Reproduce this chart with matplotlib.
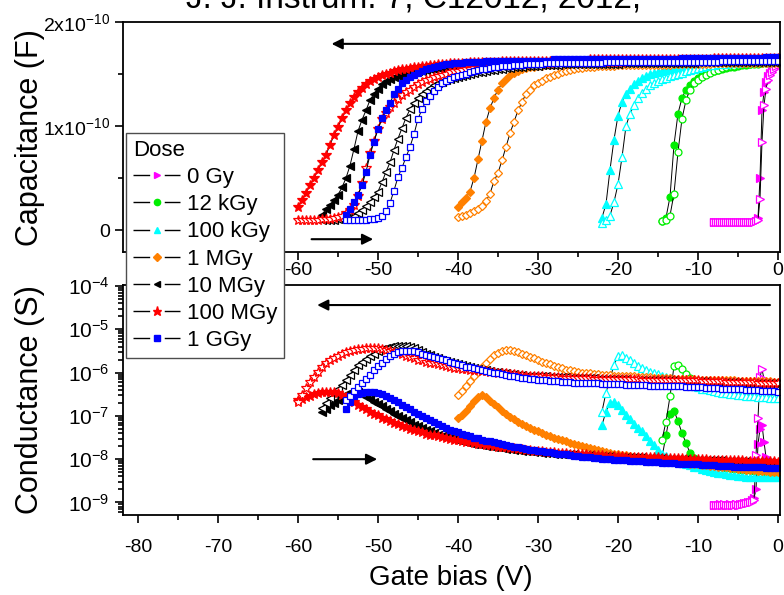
import numpy as np
import matplotlib.pyplot as plt
from matplotlib.lines import Line2D
from matplotlib.ticker import MultipleLocator, FixedLocator, FixedFormatter, LogLocator, LogFormatterSciNotation, NullFormatter

plt.rcParams['font.family'] = ['Liberation Sans', 'DejaVu Sans']
plt.rcParams['mathtext.fontset'] = 'custom'
plt.rcParams['mathtext.rm'] = 'Liberation Sans'
plt.rcParams['mathtext.it'] = 'Liberation Sans:italic'
plt.rcParams['mathtext.bf'] = 'Liberation Sans:bold'
plt.rcParams['axes.unicode_minus'] = False

# ---------------- data ----------------
doses = ['0 Gy', '12 kGy', '100 kGy', '1 MGy', '10 MGy', '100 MGy', '1 GGy']
colors = ['#ff00ff', '#00ee00', '#00ffff', '#ff8000', '#000000', '#ff0000', '#0000ff']
markers = ['>', 'o', '^', 'D', '<', '*', 's']
sweep_start = [-8, -14.5, -22, -40, -57, -60, -54]     # every sweep ends at 0 V

# capacitance in units of 1e-10 F (filled = first sweep, open = return sweep)
cap_0Gy_filled = [0.08, 0.08, 0.08, 0.08, 0.08, 0.08, 0.08, 0.08, 0.08, 0.08,
                  0.08, 0.08, 0.08, 0.08, 0.08, 0.08, 0.08, 0.08, 0.08, 0.08,
                  0.08, 0.09, 0.12, 0.50, 1.15, 1.33, 1.42, 1.48, 1.51, 1.54,
                  1.56, 1.58, 1.60]
cap_0Gy_open = [0.08, 0.08, 0.08, 0.08, 0.08, 0.08, 0.08, 0.08, 0.08, 0.08,
                0.08, 0.08, 0.08, 0.08, 0.08, 0.08, 0.08, 0.08, 0.08, 0.08,
                0.08, 0.09, 0.10, 0.30, 0.85, 1.20, 1.36, 1.44, 1.49, 1.52,
                1.55, 1.58, 1.61]
cap_12kGy_filled = [0.09, 0.12, 0.32, 0.82, 1.12, 1.27, 1.35, 1.39, 1.43, 1.46,
                    1.49, 1.51, 1.52, 1.53, 1.54, 1.55, 1.56, 1.57, 1.57, 1.58,
                    1.59, 1.59, 1.60, 1.60, 1.60, 1.61, 1.61, 1.61, 1.62, 1.62]
cap_12kGy_open = [0.09, 0.10, 0.14, 0.35, 0.75, 1.07, 1.25, 1.35, 1.41, 1.44,
                  1.47, 1.49, 1.51, 1.53, 1.54, 1.56, 1.57, 1.58, 1.58, 1.59,
                  1.60, 1.60, 1.60, 1.61, 1.61, 1.61, 1.62, 1.62, 1.62, 1.63]
cap_100kGy_filled = [0.12, 0.25, 0.58, 0.87, 1.10, 1.23, 1.31, 1.36, 1.40, 1.43,
                     1.46, 1.48, 1.50, 1.51, 1.52, 1.53, 1.54, 1.55, 1.56, 1.57,
                     1.57, 1.58, 1.58, 1.59, 1.59, 1.60, 1.60, 1.60, 1.61, 1.61,
                     1.61, 1.61, 1.62, 1.62, 1.62, 1.62, 1.62, 1.63, 1.63, 1.63,
                     1.63, 1.63, 1.64, 1.64, 1.64]
cap_100kGy_open = [0.07, 0.10, 0.14, 0.27, 0.44, 0.70, 1.00, 1.12, 1.20, 1.27,
                   1.32, 1.36, 1.39, 1.41, 1.43, 1.45, 1.46, 1.48, 1.49, 1.50,
                   1.51, 1.53, 1.54, 1.55, 1.56, 1.57, 1.58, 1.59, 1.59, 1.60,
                   1.60, 1.60, 1.61, 1.61, 1.61, 1.62, 1.62, 1.62, 1.62, 1.63,
                   1.63, 1.63, 1.63, 1.64, 1.64]
cap_1MGy_filled = [0.22, 0.27, 0.31, 0.37, 0.50, 0.68, 0.86, 1.04, 1.17, 1.27,
                   1.35, 1.41, 1.45, 1.49, 1.51, 1.53, 1.55, 1.56, 1.57, 1.57,
                   1.58, 1.58, 1.59, 1.59, 1.59, 1.59, 1.59, 1.59, 1.59, 1.59,
                   1.59, 1.59, 1.59, 1.59, 1.59, 1.60, 1.60, 1.60, 1.60, 1.60,
                   1.60, 1.60, 1.60, 1.60, 1.60, 1.60, 1.60, 1.60, 1.60, 1.60,
                   1.60, 1.60, 1.60, 1.60, 1.60, 1.60, 1.61, 1.61, 1.61, 1.61,
                   1.61, 1.61, 1.61, 1.61, 1.61, 1.61, 1.61, 1.61, 1.61, 1.61,
                   1.61, 1.61, 1.61, 1.61, 1.61, 1.62, 1.62, 1.62, 1.62, 1.62,
                   1.62]
cap_1MGy_open = [0.13, 0.14, 0.15, 0.16, 0.18, 0.20, 0.23, 0.28, 0.35, 0.47,
                 0.55, 0.67, 0.80, 0.93, 1.04, 1.15, 1.23, 1.31, 1.35, 1.39,
                 1.41, 1.43, 1.46, 1.47, 1.49, 1.50, 1.52, 1.53, 1.54, 1.55,
                 1.56, 1.56, 1.57, 1.57, 1.57, 1.58, 1.58, 1.58, 1.58, 1.58,
                 1.59, 1.59, 1.59, 1.59, 1.59, 1.59, 1.59, 1.59, 1.59, 1.59,
                 1.59, 1.59, 1.59, 1.59, 1.60, 1.60, 1.60, 1.60, 1.60, 1.60,
                 1.60, 1.60, 1.60, 1.60, 1.61, 1.61, 1.61, 1.61, 1.61, 1.61,
                 1.61, 1.61, 1.61, 1.61, 1.61, 1.61, 1.61, 1.61, 1.61, 1.61,
                 1.61]
cap_10MGy_filled = [0.15, 0.20, 0.24, 0.29, 0.34, 0.41, 0.50, 0.62, 0.78, 0.95,
                    1.06, 1.15, 1.25, 1.31, 1.36, 1.40, 1.43, 1.45, 1.47, 1.48,
                    1.49, 1.50, 1.51, 1.52, 1.53, 1.53, 1.54, 1.55, 1.55, 1.56,
                    1.56, 1.57, 1.57, 1.57, 1.58, 1.58, 1.58, 1.58, 1.59, 1.59,
                    1.59, 1.59, 1.60, 1.60, 1.60, 1.60, 1.60, 1.61, 1.61, 1.61,
                    1.61, 1.61, 1.61, 1.61, 1.61, 1.62, 1.62, 1.62, 1.62, 1.62,
                    1.62, 1.62, 1.62, 1.62, 1.62, 1.62, 1.62, 1.62, 1.62, 1.62,
                    1.62, 1.62, 1.63, 1.63, 1.63, 1.63, 1.63, 1.63, 1.63, 1.63,
                    1.63, 1.63, 1.63, 1.63, 1.63, 1.63, 1.63, 1.63, 1.63, 1.63,
                    1.63, 1.63, 1.64, 1.64, 1.64, 1.64, 1.64, 1.64, 1.64, 1.64,
                    1.64, 1.64, 1.64, 1.64, 1.64, 1.64, 1.64, 1.64, 1.64, 1.64,
                    1.64, 1.64, 1.64, 1.64, 1.64]
cap_10MGy_open = [0.10, 0.10, 0.10, 0.10, 0.11, 0.11, 0.12, 0.13, 0.14, 0.16,
                  0.19, 0.23, 0.27, 0.32, 0.37, 0.46, 0.56, 0.65, 0.77, 0.88,
                  0.98, 1.08, 1.16, 1.22, 1.27, 1.31, 1.34, 1.37, 1.39, 1.41,
                  1.42, 1.44, 1.45, 1.46, 1.47, 1.48, 1.49, 1.50, 1.51, 1.52,
                  1.52, 1.53, 1.54, 1.54, 1.55, 1.55, 1.56, 1.56, 1.57, 1.57,
                  1.57, 1.58, 1.58, 1.58, 1.58, 1.59, 1.59, 1.59, 1.59, 1.59,
                  1.60, 1.60, 1.60, 1.60, 1.60, 1.60, 1.60, 1.60, 1.60, 1.60,
                  1.60, 1.60, 1.60, 1.60, 1.60, 1.61, 1.61, 1.61, 1.61, 1.61,
                  1.61, 1.61, 1.61, 1.61, 1.61, 1.61, 1.61, 1.61, 1.61, 1.61,
                  1.61, 1.61, 1.61, 1.61, 1.62, 1.62, 1.62, 1.62, 1.62, 1.62,
                  1.62, 1.62, 1.62, 1.62, 1.62, 1.62, 1.62, 1.62, 1.62, 1.62,
                  1.62, 1.62, 1.62, 1.62, 1.62]
cap_100MGy_filled = [0.22, 0.29, 0.36, 0.43, 0.50, 0.58, 0.65, 0.72, 0.82, 0.91,
                     0.99, 1.08, 1.15, 1.22, 1.28, 1.33, 1.37, 1.40, 1.43, 1.45,
                     1.47, 1.49, 1.50, 1.51, 1.53, 1.54, 1.55, 1.55, 1.56, 1.57,
                     1.57, 1.58, 1.58, 1.59, 1.59, 1.60, 1.60, 1.60, 1.61, 1.61,
                     1.61, 1.61, 1.61, 1.62, 1.62, 1.62, 1.62, 1.62, 1.62, 1.62,
                     1.62, 1.63, 1.63, 1.63, 1.63, 1.63, 1.63, 1.63, 1.63, 1.63,
                     1.63, 1.63, 1.63, 1.63, 1.63, 1.63, 1.63, 1.63, 1.63, 1.63,
                     1.63, 1.63, 1.63, 1.64, 1.64, 1.64, 1.64, 1.64, 1.64, 1.64,
                     1.64, 1.64, 1.64, 1.64, 1.64, 1.64, 1.64, 1.64, 1.64, 1.64,
                     1.64, 1.64, 1.64, 1.64, 1.64, 1.64, 1.64, 1.64, 1.64, 1.64,
                     1.64, 1.64, 1.64, 1.64, 1.65, 1.65, 1.65, 1.65, 1.65, 1.65,
                     1.65, 1.65, 1.65, 1.65, 1.65, 1.65, 1.65, 1.65, 1.65, 1.65,
                     1.65]
cap_100MGy_open = [0.10, 0.10, 0.10, 0.10, 0.10, 0.10, 0.11, 0.11, 0.11, 0.12,
                   0.13, 0.14, 0.16, 0.19, 0.24, 0.33, 0.45, 0.60, 0.74, 0.86,
                   0.97, 1.07, 1.13, 1.18, 1.22, 1.26, 1.30, 1.33, 1.35, 1.38,
                   1.40, 1.42, 1.44, 1.45, 1.47, 1.48, 1.49, 1.50, 1.52, 1.53,
                   1.53, 1.54, 1.55, 1.55, 1.56, 1.56, 1.57, 1.57, 1.58, 1.58,
                   1.58, 1.59, 1.59, 1.59, 1.60, 1.60, 1.60, 1.60, 1.61, 1.61,
                   1.61, 1.61, 1.61, 1.61, 1.62, 1.62, 1.62, 1.62, 1.62, 1.62,
                   1.62, 1.62, 1.62, 1.62, 1.62, 1.62, 1.62, 1.62, 1.62, 1.62,
                   1.62, 1.62, 1.63, 1.63, 1.63, 1.63, 1.63, 1.63, 1.63, 1.63,
                   1.63, 1.63, 1.63, 1.63, 1.63, 1.63, 1.63, 1.63, 1.63, 1.63,
                   1.63, 1.63, 1.63, 1.63, 1.64, 1.64, 1.64, 1.64, 1.64, 1.64,
                   1.64, 1.64, 1.64, 1.64, 1.64, 1.64, 1.64, 1.64, 1.64, 1.64,
                   1.64]
cap_1GGy_filled = [0.15, 0.20, 0.27, 0.34, 0.43, 0.56, 0.72, 0.85, 0.97, 1.08,
                   1.15, 1.22, 1.31, 1.36, 1.41, 1.44, 1.47, 1.49, 1.51, 1.53,
                   1.55, 1.56, 1.57, 1.58, 1.59, 1.60, 1.60, 1.61, 1.61, 1.61,
                   1.62, 1.62, 1.62, 1.62, 1.62, 1.63, 1.63, 1.63, 1.63, 1.63,
                   1.63, 1.63, 1.63, 1.63, 1.63, 1.63, 1.63, 1.63, 1.63, 1.63,
                   1.63, 1.63, 1.64, 1.64, 1.64, 1.64, 1.64, 1.64, 1.64, 1.64,
                   1.64, 1.64, 1.64, 1.64, 1.64, 1.64, 1.64, 1.64, 1.64, 1.64,
                   1.64, 1.64, 1.64, 1.64, 1.64, 1.64, 1.64, 1.64, 1.64, 1.64,
                   1.64, 1.64, 1.64, 1.64, 1.65, 1.65, 1.65, 1.65, 1.65, 1.65,
                   1.65, 1.65, 1.65, 1.65, 1.65, 1.65, 1.65, 1.65, 1.65, 1.65,
                   1.65, 1.65, 1.65, 1.65, 1.65, 1.66, 1.66, 1.66, 1.66]
cap_1GGy_open = [0.10, 0.10, 0.10, 0.10, 0.10, 0.10, 0.11, 0.11, 0.12, 0.14,
                 0.18, 0.26, 0.38, 0.51, 0.60, 0.70, 0.80, 0.92, 1.07, 1.16,
                 1.24, 1.29, 1.34, 1.38, 1.41, 1.43, 1.45, 1.47, 1.48, 1.49,
                 1.50, 1.52, 1.53, 1.54, 1.55, 1.55, 1.56, 1.57, 1.57, 1.58,
                 1.58, 1.58, 1.59, 1.59, 1.59, 1.60, 1.60, 1.60, 1.60, 1.60,
                 1.61, 1.61, 1.61, 1.61, 1.61, 1.61, 1.61, 1.61, 1.61, 1.61,
                 1.61, 1.61, 1.61, 1.61, 1.61, 1.62, 1.62, 1.62, 1.62, 1.62,
                 1.62, 1.62, 1.62, 1.62, 1.62, 1.62, 1.62, 1.62, 1.62, 1.62,
                 1.62, 1.62, 1.62, 1.62, 1.62, 1.62, 1.62, 1.62, 1.62, 1.62,
                 1.62, 1.62, 1.62, 1.62, 1.63, 1.63, 1.63, 1.63, 1.63, 1.63,
                 1.63, 1.63, 1.63, 1.63, 1.63, 1.63, 1.63, 1.63, 1.63]

# conductance, read as log10(G / S) on the log axis
cond_0Gy_filled = [-9.05, -9.06, -9.05, -9.04, -9.05, -9.06, -9.05, -9.05, -9.04, -9.05,
                   -9.05, -9.04, -9.05, -9.04, -9.03, -9.02, -9.01, -9.00, -8.98, -8.95,
                   -8.90, -8.70, -7.65, -7.30, -7.20, -7.60, -7.95, -8.10, -8.15, -8.20,
                   -8.22, -8.24, -8.25]
cond_0Gy_open = [-9.06, -9.05, -9.05, -9.06, -9.05, -9.04, -9.05, -9.05, -9.06, -9.05,
                 -9.05, -9.04, -9.05, -9.05, -9.04, -9.03, -9.02, -9.01, -9.00, -8.98,
                 -8.95, -7.90, -7.05, -6.10, -5.92, -6.15, -6.25, -6.28, -6.30, -6.31,
                 -6.32, -6.33, -6.33]
cond_12kGy_filled = [-7.96, -7.45, -6.95, -6.88, -7.12, -7.40, -7.62, -7.86, -7.98, -8.04,
                     -8.08, -8.10, -8.12, -8.14, -8.16, -8.18, -8.20, -8.21, -8.22, -8.23,
                     -8.24, -8.25, -8.26, -8.27, -8.28, -8.28, -8.29, -8.30, -8.30, -8.31]
cond_12kGy_open = [-7.56, -7.13, -6.55, -5.85, -5.82, -5.92, -6.04, -6.13, -6.22, -6.29,
                   -6.34, -6.38, -6.41, -6.43, -6.45, -6.46, -6.48, -6.49, -6.50, -6.51,
                   -6.52, -6.53, -6.53, -6.54, -6.54, -6.55, -6.55, -6.56, -6.56, -6.57]
cond_100kGy_filled = [-7.21, -6.90, -6.70, -6.68, -6.74, -6.86, -6.97, -7.08, -7.18, -7.27,
                      -7.36, -7.46, -7.57, -7.68, -7.78, -7.87, -7.93, -7.98, -8.02, -8.05,
                      -8.08, -8.11, -8.14, -8.17, -8.19, -8.22, -8.24, -8.27, -8.29, -8.31,
                      -8.33, -8.35, -8.36, -8.37, -8.38, -8.39, -8.40, -8.40, -8.40, -8.40,
                      -8.41, -8.41, -8.41, -8.41, -8.41]
cond_100kGy_open = [-6.90, -6.46, -6.15, -5.82, -5.62, -5.60, -5.66, -5.71, -5.78, -5.84,
                    -5.89, -5.94, -5.98, -6.01, -6.04, -6.07, -6.10, -6.13, -6.16, -6.19,
                    -6.22, -6.25, -6.28, -6.31, -6.34, -6.37, -6.39, -6.41, -6.43, -6.45,
                    -6.46, -6.48, -6.49, -6.50, -6.51, -6.52, -6.53, -6.54, -6.55, -6.56,
                    -6.56, -6.57, -6.58, -6.58, -6.59]
cond_1MGy_filled = [-7.06, -6.97, -6.88, -6.77, -6.66, -6.56, -6.52, -6.57, -6.65, -6.73,
                    -6.80, -6.88, -6.95, -7.02, -7.08, -7.14, -7.19, -7.24, -7.28, -7.32,
                    -7.36, -7.40, -7.43, -7.47, -7.50, -7.53, -7.56, -7.59, -7.62, -7.65,
                    -7.68, -7.70, -7.73, -7.75, -7.77, -7.79, -7.81, -7.83, -7.85, -7.87,
                    -7.88, -7.90, -7.91, -7.93, -7.94, -7.96, -7.97, -7.98, -8.00, -8.01,
                    -8.02, -8.03, -8.04, -8.05, -8.06, -8.07, -8.08, -8.09, -8.10, -8.11,
                    -8.12, -8.13, -8.14, -8.15, -8.16, -8.17, -8.18, -8.19, -8.20, -8.21,
                    -8.22, -8.23, -8.24, -8.25, -8.26, -8.27, -8.27, -8.28, -8.29, -8.30,
                    -8.30]
cond_1MGy_open = [-6.52, -6.42, -6.31, -6.20, -6.09, -5.98, -5.87, -5.77, -5.68, -5.60,
                  -5.54, -5.50, -5.48, -5.48, -5.50, -5.53, -5.56, -5.60, -5.63, -5.67,
                  -5.71, -5.75, -5.78, -5.81, -5.84, -5.87, -5.90, -5.93, -5.95, -5.97,
                  -5.99, -6.00, -6.01, -6.02, -6.03, -6.04, -6.05, -6.06, -6.06, -6.07,
                  -6.07, -6.08, -6.08, -6.09, -6.09, -6.10, -6.10, -6.11, -6.11, -6.12,
                  -6.12, -6.12, -6.13, -6.13, -6.14, -6.14, -6.14, -6.15, -6.15, -6.15,
                  -6.16, -6.16, -6.16, -6.17, -6.17, -6.17, -6.18, -6.18, -6.18, -6.18,
                  -6.19, -6.19, -6.19, -6.19, -6.20, -6.20, -6.20, -6.20, -6.20, -6.21,
                  -6.21]
cond_10MGy_filled = [-6.90, -6.83, -6.76, -6.70, -6.63, -6.56, -6.50, -6.46, -6.44, -6.45,
                     -6.50, -6.56, -6.62, -6.68, -6.73, -6.78, -6.84, -6.89, -6.95, -7.00,
                     -7.05, -7.10, -7.15, -7.20, -7.24, -7.28, -7.32, -7.36, -7.40, -7.43,
                     -7.46, -7.49, -7.52, -7.54, -7.56, -7.58, -7.60, -7.62, -7.64, -7.66,
                     -7.67, -7.69, -7.70, -7.72, -7.73, -7.74, -7.76, -7.77, -7.78, -7.79,
                     -7.80, -7.81, -7.82, -7.83, -7.84, -7.85, -7.85, -7.86, -7.87, -7.87,
                     -7.88, -7.88, -7.89, -7.89, -7.90, -7.90, -7.91, -7.91, -7.92, -7.92,
                     -7.93, -7.93, -7.93, -7.94, -7.94, -7.95, -7.95, -7.95, -7.96, -7.96,
                     -7.96, -7.97, -7.97, -7.98, -7.98, -7.98, -7.99, -7.99, -7.99, -8.00,
                     -8.00, -8.00, -8.01, -8.01, -8.01, -8.02, -8.02, -8.02, -8.03, -8.03,
                     -8.03, -8.04, -8.04, -8.04, -8.05, -8.05, -8.05, -8.06, -8.06, -8.06,
                     -8.07, -8.07, -8.07, -8.08, -8.08]
cond_10MGy_open = [-6.82, -6.70, -6.59, -6.48, -6.38, -6.28, -6.17, -6.05, -5.93, -5.83,
                   -5.75, -5.68, -5.62, -5.56, -5.50, -5.46, -5.43, -5.40, -5.39, -5.38,
                   -5.38, -5.39, -5.41, -5.44, -5.48, -5.52, -5.56, -5.60, -5.63, -5.67,
                   -5.70, -5.73, -5.76, -5.79, -5.81, -5.83, -5.85, -5.87, -5.89, -5.91,
                   -5.93, -5.95, -5.96, -5.98, -5.99, -6.01, -6.02, -6.03, -6.04, -6.05,
                   -6.06, -6.07, -6.07, -6.08, -6.08, -6.09, -6.09, -6.10, -6.10, -6.11,
                   -6.11, -6.11, -6.12, -6.12, -6.12, -6.13, -6.13, -6.13, -6.13, -6.14,
                   -6.14, -6.14, -6.14, -6.15, -6.15, -6.15, -6.15, -6.16, -6.16, -6.16,
                   -6.16, -6.17, -6.17, -6.17, -6.17, -6.18, -6.18, -6.18, -6.18, -6.19,
                   -6.19, -6.19, -6.19, -6.20, -6.20, -6.20, -6.20, -6.21, -6.21, -6.21,
                   -6.21, -6.22, -6.22, -6.22, -6.22, -6.23, -6.23, -6.23, -6.23, -6.24,
                   -6.24, -6.24, -6.24, -6.25, -6.25]
cond_100MGy_filled = [-6.63, -6.60, -6.56, -6.53, -6.50, -6.47, -6.45, -6.44, -6.44, -6.45,
                      -6.48, -6.52, -6.57, -6.63, -6.69, -6.74, -6.80, -6.85, -6.90, -6.95,
                      -6.99, -7.04, -7.08, -7.12, -7.16, -7.19, -7.23, -7.26, -7.30, -7.33,
                      -7.36, -7.38, -7.41, -7.43, -7.45, -7.47, -7.49, -7.51, -7.53, -7.55,
                      -7.56, -7.58, -7.60, -7.61, -7.63, -7.64, -7.66, -7.67, -7.68, -7.70,
                      -7.71, -7.72, -7.73, -7.74, -7.75, -7.76, -7.77, -7.78, -7.79, -7.80,
                      -7.81, -7.82, -7.83, -7.84, -7.84, -7.85, -7.86, -7.86, -7.87, -7.88,
                      -7.88, -7.89, -7.89, -7.90, -7.90, -7.91, -7.91, -7.92, -7.92, -7.93,
                      -7.93, -7.93, -7.94, -7.94, -7.94, -7.95, -7.95, -7.95, -7.96, -7.96,
                      -7.96, -7.97, -7.97, -7.97, -7.98, -7.98, -7.98, -7.99, -7.99, -7.99,
                      -8.00, -8.00, -8.00, -8.01, -8.01, -8.01, -8.02, -8.02, -8.02, -8.03,
                      -8.03, -8.03, -8.04, -8.04, -8.04, -8.04, -8.05, -8.05, -8.05, -8.05,
                      -8.06]
cond_100MGy_open = [-6.67, -6.52, -6.36, -6.22, -6.10, -5.98, -5.88, -5.79, -5.71, -5.66,
                    -5.61, -5.57, -5.53, -5.50, -5.48, -5.46, -5.45, -5.44, -5.44, -5.44,
                    -5.44, -5.45, -5.47, -5.50, -5.52, -5.55, -5.58, -5.61, -5.64, -5.67,
                    -5.70, -5.72, -5.75, -5.77, -5.79, -5.81, -5.83, -5.85, -5.87, -5.89,
                    -5.90, -5.91, -5.92, -5.93, -5.94, -5.95, -5.96, -5.97, -5.98, -5.99,
                    -6.00, -6.01, -6.02, -6.03, -6.04, -6.05, -6.06, -6.07, -6.08, -6.08,
                    -6.09, -6.09, -6.10, -6.10, -6.11, -6.11, -6.12, -6.12, -6.12, -6.13,
                    -6.13, -6.13, -6.13, -6.13, -6.14, -6.14, -6.14, -6.14, -6.14, -6.14,
                    -6.14, -6.15, -6.15, -6.15, -6.15, -6.15, -6.16, -6.16, -6.16, -6.16,
                    -6.16, -6.17, -6.17, -6.17, -6.17, -6.17, -6.18, -6.18, -6.18, -6.18,
                    -6.18, -6.19, -6.19, -6.19, -6.20, -6.20, -6.20, -6.21, -6.21, -6.21,
                    -6.21, -6.22, -6.22, -6.22, -6.22, -6.23, -6.23, -6.23, -6.24, -6.24,
                    -6.24]
cond_1GGy_filled = [-6.85, -6.68, -6.55, -6.49, -6.46, -6.44, -6.44, -6.45, -6.47, -6.50,
                    -6.55, -6.59, -6.64, -6.69, -6.75, -6.80, -6.85, -6.91, -6.96, -7.00,
                    -7.05, -7.09, -7.14, -7.18, -7.23, -7.28, -7.32, -7.35, -7.38, -7.41,
                    -7.44, -7.47, -7.50, -7.52, -7.55, -7.57, -7.59, -7.61, -7.63, -7.65,
                    -7.67, -7.69, -7.71, -7.73, -7.75, -7.76, -7.78, -7.79, -7.80, -7.82,
                    -7.83, -7.84, -7.86, -7.87, -7.88, -7.89, -7.90, -7.92, -7.93, -7.94,
                    -7.95, -7.96, -7.97, -7.98, -7.99, -8.00, -8.00, -8.01, -8.02, -8.02,
                    -8.03, -8.04, -8.04, -8.05, -8.05, -8.06, -8.06, -8.07, -8.07, -8.08,
                    -8.08, -8.09, -8.09, -8.10, -8.10, -8.11, -8.11, -8.12, -8.12, -8.13,
                    -8.13, -8.14, -8.14, -8.15, -8.15, -8.16, -8.16, -8.17, -8.17, -8.18,
                    -8.18, -8.18, -8.19, -8.19, -8.19, -8.20, -8.20, -8.20, -8.21]
cond_1GGy_open = [-6.64, -6.53, -6.42, -6.33, -6.25, -6.15, -6.05, -5.95, -5.85, -5.77,
                  -5.69, -5.62, -5.56, -5.52, -5.50, -5.49, -5.49, -5.50, -5.53, -5.56,
                  -5.59, -5.62, -5.64, -5.67, -5.69, -5.72, -5.75, -5.78, -5.80, -5.83,
                  -5.86, -5.88, -5.90, -5.92, -5.94, -5.96, -5.98, -6.00, -6.02, -6.04,
                  -6.06, -6.07, -6.09, -6.10, -6.12, -6.13, -6.14, -6.15, -6.16, -6.17,
                  -6.18, -6.19, -6.20, -6.20, -6.21, -6.22, -6.22, -6.23, -6.23, -6.24,
                  -6.24, -6.25, -6.25, -6.25, -6.26, -6.26, -6.26, -6.27, -6.27, -6.27,
                  -6.28, -6.28, -6.28, -6.29, -6.29, -6.29, -6.30, -6.30, -6.30, -6.31,
                  -6.31, -6.31, -6.32, -6.32, -6.32, -6.33, -6.33, -6.33, -6.34, -6.34,
                  -6.35, -6.35, -6.36, -6.36, -6.37, -6.37, -6.38, -6.38, -6.39, -6.39,
                  -6.40, -6.40, -6.41, -6.41, -6.42, -6.42, -6.43, -6.43, -6.44]

cap_filled = [cap_0Gy_filled, cap_12kGy_filled, cap_100kGy_filled, cap_1MGy_filled,
              cap_10MGy_filled, cap_100MGy_filled, cap_1GGy_filled]
cap_open = [cap_0Gy_open, cap_12kGy_open, cap_100kGy_open, cap_1MGy_open,
            cap_10MGy_open, cap_100MGy_open, cap_1GGy_open]
cond_filled = [cond_0Gy_filled, cond_12kGy_filled, cond_100kGy_filled, cond_1MGy_filled,
               cond_10MGy_filled, cond_100MGy_filled, cond_1GGy_filled]
cond_open = [cond_0Gy_open, cond_12kGy_open, cond_100kGy_open, cond_1MGy_open,
             cond_10MGy_open, cond_100MGy_open, cond_1GGy_open]

x_ticks = [-80, -70, -60, -50, -40, -30, -20, -10, 0]
x_ticklabels_top = ['', '', '-60', '-50', '-40', '-30', '-20', '-10', '0']   # -80/-70 sit under the legend
g_ticks = [1e-9, 1e-8, 1e-7, 1e-6, 1e-5, 1e-4]

# ---------------- figure ----------------
W, H = 784, 595
fig = plt.figure(figsize=(W / 100, H / 100), dpi=100)
ax1 = fig.add_axes([123 / W, 1 - 252 / H, 657 / W, 230 / H])   # capacitance
ax2 = fig.add_axes([123 / W, 1 - 515 / H, 657 / W, 230 / H])   # conductance

msize = {'>': 5.5, 'o': 5, '^': 5.5, 'D': 4.3, '<': 5.5, '*': 7.5, 's': 4.6}

for i in range(7):
    n = len(cap_filled[i])
    bias = np.linspace(sweep_start[i], 0, n)
    m, c = markers[i], colors[i]
    for vals, face in [(cap_filled[i], c), (cap_open[i], 'white')]:
        ax1.plot(bias, np.array(vals) * 1e-10, color='k', lw=0.7, marker=m, ms=msize[m],
                 mfc=face, mec=c, mew=0.9)
    n = len(cond_filled[i])
    bias = np.linspace(sweep_start[i], 0, n)
    for vals, face in [(cond_filled[i], c), (cond_open[i], 'white')]:
        ax2.plot(bias, 10.0 ** np.array(vals), color='k', lw=0.7, marker=m, ms=msize[m],
                 mfc=face, mec=c, mew=0.9)

for ax in (ax1, ax2):
    ax.set_xlim(-81.87, 0.25)
    ax.xaxis.set_major_locator(FixedLocator(x_ticks))
    ax.xaxis.set_minor_locator(MultipleLocator(5))
    ax.tick_params(which='both', direction='out', width=1.2, top=False, right=False)
    ax.tick_params(which='major', length=6)
    ax.tick_params(which='minor', length=3.5)
    ax.tick_params(axis='x', labelsize=14)
    ax.tick_params(axis='y', labelsize=15)
    for s in ax.spines.values():
        s.set_linewidth(1.3)

ax1.xaxis.set_major_formatter(FixedFormatter(x_ticklabels_top))
ax1.set_ylim(-0.21e-10, 2e-10)
ax1.yaxis.set_major_locator(FixedLocator([0, 1e-10, 2e-10]))
ax1.yaxis.set_major_formatter(FixedFormatter(['0', r'$\mathregular{1x10^{-10}}$',
                                              r'$\mathregular{2x10^{-10}}$']))
ax1.yaxis.set_minor_locator(FixedLocator([0.5e-10, 1.5e-10]))
ax1.tick_params(axis='x', pad=1.5)
ax1.tick_params(axis='y', labelsize=14)

ax2.xaxis.set_major_formatter(FixedFormatter([str(v) for v in x_ticks]))
ax2.set_yscale('log')
ax2.set_ylim(10 ** -9.289, 10 ** -3.977)
ax2.yaxis.set_major_locator(FixedLocator(g_ticks))
ax2.yaxis.set_minor_locator(LogLocator(base=10, subs=np.arange(2, 10), numticks=20))
ax2.yaxis.set_major_formatter(LogFormatterSciNotation())
ax2.yaxis.set_minor_formatter(NullFormatter())
ax2.tick_params(axis='x', pad=11)

# sweep direction arrows
arr = dict(arrowstyle='-|>', color='k', lw=1.5, mutation_scale=16, shrinkA=0, shrinkB=0)
ax1.annotate('', xy=(-55.8, 1.79e-10), xytext=(-1.0, 1.79e-10), arrowprops=arr)
ax1.annotate('', xy=(-50.6, -0.087e-10), xytext=(-58.3, -0.087e-10), arrowprops=arr)
ax2.annotate('', xy=(-57.6, 10 ** -4.44), xytext=(-1.0, 10 ** -4.44), arrowprops=arr)
ax2.annotate('', xy=(-50.1, 1e-8), xytext=(-58.1, 1e-8), arrowprops=arr)

fig.text(30 / W, 1 - 138 / H, 'Capacitance (F)', rotation=90, ha='center', va='center', fontsize=22)
fig.text(30 / W, 1 - 400 / H, 'Conductance (S)', rotation=90, ha='center', va='center', fontsize=22)
fig.text(451 / W, 1 - 578 / H, 'Gate bias (V)', ha='center', va='center', fontsize=20)
fig.text(414 / W, 1 - 7.5 / H, 'J. J. Instrum. 7, C12012, 2012,', ha='center', va='baseline', fontsize=24)

handles = [Line2D([], [], color='k', lw=1.0, linestyle=(0, (12, 10.5)), marker=markers[i],
                  ms=msize[markers[i]] * 0.9, mfc=colors[i], mec=colors[i])
           for i in range(7)]
fig.legend(handles, doses, title='Dose', loc='upper left',
           bbox_to_anchor=(126 / W, 1 - 133 / H), borderaxespad=0,
           fontsize=16, title_fontsize=16, alignment='left', numpoints=1,
           handlelength=2.15, handletextpad=0.3, labelspacing=0.28, borderpad=0.3,
           frameon=True, fancybox=False, framealpha=1, edgecolor='0.3')

fig.savefig('out.png', dpi=100)
